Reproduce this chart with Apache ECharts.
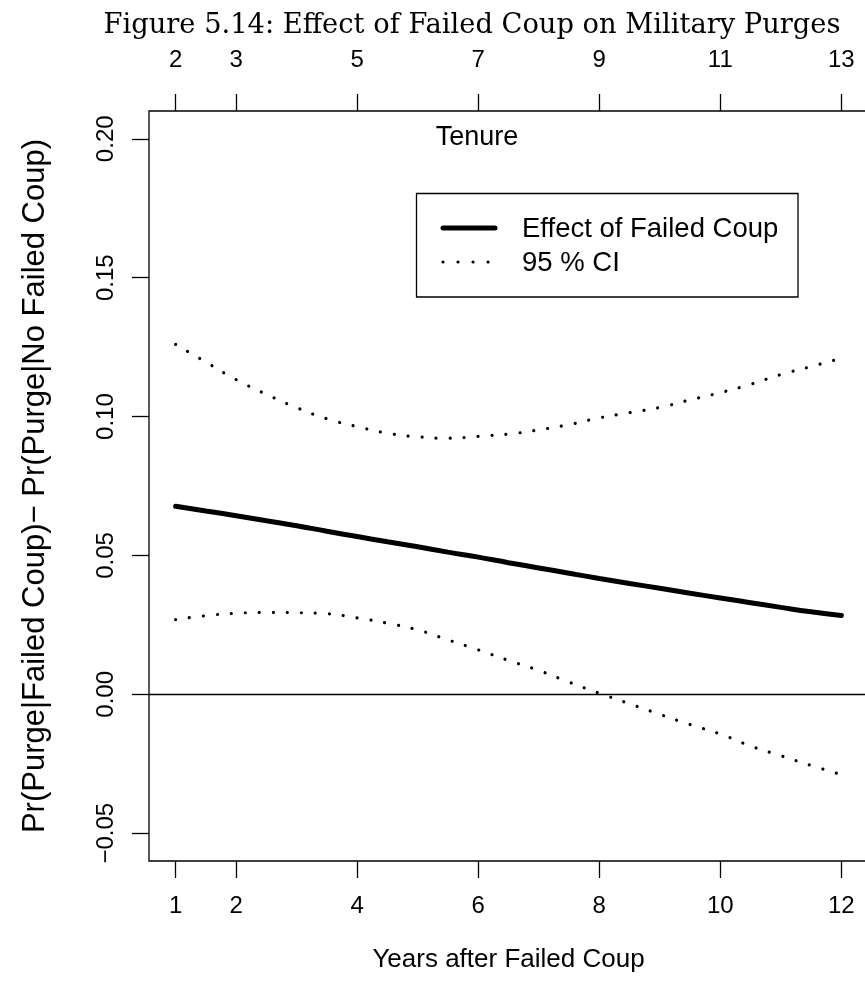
<!DOCTYPE html>
<html><head><meta charset="utf-8">
<script src="https://cdn.jsdelivr.net/npm/echarts@6/dist/echarts.min.js"></script>
<style>html,body{margin:0;padding:0;background:#fff}#c{width:865px;height:1002px}</style>
</head><body><div id="c"></div>
<script>
// ---- data ----
const years = [1,1.5,2,2.5,3,3.5,4,4.5,5,5.5,6,6.5,7,7.5,8,8.5,9,9.5,10,10.5,11,11.5,12];
const effect = [0.0677,0.0660,0.0643,0.0625,0.0607,0.0587,0.0568,0.0549,0.0531,0.0512,0.0494,0.0474,0.0455,0.0436,0.0417,0.0399,0.0382,0.0364,0.0347,0.0330,0.0313,0.0297,0.0284];
const upperCI = [0.1260,0.1196,0.1133,0.1080,0.1032,0.0992,0.0964,0.0940,0.0927,0.0922,0.0929,0.0937,0.0952,0.0971,0.0995,0.1014,0.1033,0.1060,0.1086,0.1116,0.1151,0.1180,0.1210];
const lowerCI = [0.0269,0.0283,0.0292,0.0295,0.0294,0.0290,0.0275,0.0256,0.0232,0.0196,0.0160,0.0122,0.0086,0.0044,0.0004,-0.0034,-0.0072,-0.0109,-0.0143,-0.0186,-0.0221,-0.0256,-0.0289];
const bottomTicks = [1,2,4,6,8,10,12];
const topTicks = [2,3,5,7,9,11,13];
const yTicks = [-0.05,0,0.05,0.10,0.15,0.20];
const titleText = 'Figure 5.14: Effect of Failed Coup on Military Purges';
const xTitle = 'Years after Failed Coup';
const yTitle = 'Pr(Purge|Failed Coup)\u2212 Pr(Purge|No Failed Coup)';
const topTitle = 'Tenure';
const legendNames = ['Effect of Failed Coup', '95 % CI'];

const pair = arr => years.map((x, i) => [x, arr[i]]);
const SANS = 'Liberation Sans, Arial, Helvetica, sans-serif';
const FS = 24;
const axLine = {color: '#000', width: 1.3};

const chart = echarts.init(document.getElementById('c'), null, {renderer: 'canvas'});
const option = {
  animation: false,
  backgroundColor: '#fff',
  grid: {left: 149, top: 111, width: 719, height: 750, show: true, borderColor: '#000', borderWidth: 1.3,
         backgroundColor: 'transparent', containLabel: false, outerBoundsMode: 'none'},
  xAxis: [
    {type: 'value', position: 'bottom', min: 0.56, max: 12.44,
     name: xTitle, nameLocation: 'middle', nameGap: 86,
     nameTextStyle: {fontFamily: SANS, fontSize: 26, color: '#000'},
     axisLine: {show: false, onZero: false}, splitLine: {show: false},
     axisTick: {show: true, length: 17, lineStyle: axLine, customValues: bottomTicks},
     axisLabel: {fontFamily: SANS, fontSize: FS, color: '#000', margin: 33, customValues: bottomTicks}},
    {type: 'value', position: 'top', min: 1.56, max: 13.44,
     axisLine: {show: false, onZero: false}, splitLine: {show: false},
     axisTick: {show: true, length: 17, lineStyle: axLine, customValues: topTicks},
     axisLabel: {fontFamily: SANS, fontSize: FS, color: '#000', margin: 39, customValues: topTicks}}
  ],
  yAxis: [{type: 'value', min: -0.06, max: 0.21,
     name: yTitle, nameLocation: 'middle', nameGap: 98, nameRotate: 90,
     nameTextStyle: {fontFamily: SANS, fontSize: 31, color: '#000'},
     axisLine: {show: false, onZero: false}, splitLine: {show: false},
     axisTick: {show: true, length: 17, lineStyle: axLine, customValues: yTicks},
     axisLabel: {fontFamily: SANS, fontSize: FS, color: '#000', margin: 31, rotate: 90, customValues: yTicks,
       formatter: v => (v < 0 ? '\u2212' : '') + Math.abs(v).toFixed(2)}}],
  series: [
    {name: legendNames[0], type: 'line', data: pair(effect), smooth: true, showSymbol: false, symbol: 'none',
     lineStyle: {color: '#000', width: 5, cap: 'round'},
     markLine: {silent: true, symbol: 'none', label: {show: false},
       lineStyle: {color: '#000', width: 1.3, type: 'solid'}, data: [{yAxis: 0}]}},
    {name: legendNames[1] + ' upper', type: 'line', data: pair(upperCI), smooth: true, showSymbol: false, symbol: 'none',
     lineStyle: {color: '#000', width: 3.2, type: [0.01, 14], cap: 'round'}},
    {name: legendNames[1] + ' lower', type: 'line', data: pair(lowerCI), smooth: true, showSymbol: false, symbol: 'none',
     lineStyle: {color: '#000', width: 3.2, type: [0.01, 14], cap: 'round'}}
  ],
  graphic: [
    {type: 'text', x: 472, y: 26, style: {text: titleText, font: '27.3px "DejaVu Serif", serif', fill: '#000', align: 'center', verticalAlign: 'middle'}},
    {type: 'text', x: 477, y: 138, style: {text: topTitle, font: '27px ' + SANS, fill: '#000', align: 'center', verticalAlign: 'middle'}},
    {type: 'rect', shape: {x: 416.5, y: 193.5, width: 381.5, height: 103.5}, style: {fill: '#fff', stroke: '#000', lineWidth: 1.3}},
    {type: 'line', shape: {x1: 443, y1: 228, x2: 495, y2: 228}, style: {stroke: '#000', lineWidth: 5, lineCap: 'round'}},
    {type: 'line', shape: {x1: 443, y1: 262, x2: 490, y2: 262}, style: {stroke: '#000', lineWidth: 3.2, lineCap: 'round', lineDash: [0.01, 15]}},
    {type: 'text', x: 522, y: 229, style: {text: legendNames[0], font: '27.5px ' + SANS, fill: '#000', align: 'left', verticalAlign: 'middle'}},
    {type: 'text', x: 522, y: 263, style: {text: legendNames[1], font: '27.5px ' + SANS, fill: '#000', align: 'left', verticalAlign: 'middle'}}
  ]
};
chart.setOption(option);
</script>
</body></html>
